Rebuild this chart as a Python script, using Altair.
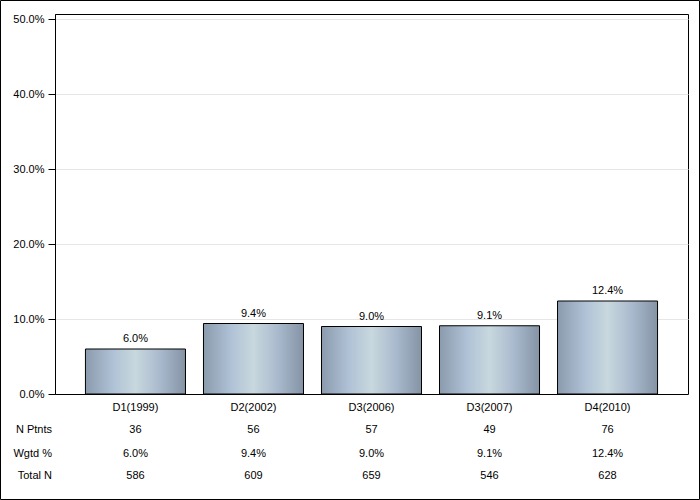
import altair as alt
import pandas as pd

categories = ["D1(1999)", "D2(2002)", "D3(2006)", "D3(2007)", "D4(2010)"]
values = [6.0, 9.4, 9.0, 9.1, 12.4]
n_ptnts = ["36", "56", "57", "49", "76"]
wgtd = ["6.0%", "9.4%", "9.0%", "9.1%", "12.4%"]
total_n = ["586", "609", "659", "546", "628"]
row_labels = ["N Ptnts", "Wgtd %", "Total N"]
y_ticks = [0, 10, 20, 30, 40, 50]

FONT = "Liberation Sans"
W, H = 633, 380

df = pd.DataFrame({"cat": categories, "val": values,
                   "lab": [f"{v:.1f}%" for v in values],
                   "np": n_ptnts, "wp": wgtd, "tn": total_n})

xsc = alt.Scale(domain=categories, paddingInner=0.1525, paddingOuter=0.258)
ysc = alt.Scale(domain=[0, 50.67], nice=False, zero=True)

grad = alt.Gradient(
    gradient="linear", x1=0, x2=1, y1=0, y2=0,
    stops=[alt.GradientStop(color="#8b9bae", offset=0),
           alt.GradientStop(color="#b0c2d6", offset=0.28),
           alt.GradientStop(color="#c8d8de", offset=0.5),
           alt.GradientStop(color="#a9b9cd", offset=0.75),
           alt.GradientStop(color="#8494a5", offset=1)])

base = alt.Chart(df)

bars = base.mark_bar(fill=grad, stroke="black", strokeWidth=1).encode(
    x=alt.X("cat:N", scale=xsc, sort=categories,
            axis=alt.Axis(title=None, labels=False, ticks=False, domain=True,
                          domainColor="black", grid=False)),
    y=alt.Y("val:Q", scale=ysc,
            axis=alt.Axis(title=None, values=y_ticks,
                          labelExpr="format(datum.value, '.1f') + '%'",
                          tickSize=7, tickColor="black", domainColor="black",
                          labelFont=FONT, labelFontSize=11, labelColor="black",
                          labelPadding=4, grid=True, gridColor="#e6e6e6")),
)

bar_labels = base.mark_text(font=FONT, fontSize=11, baseline="middle", dy=-10,
                            color="black").encode(
    x=alt.X("cat:N", scale=xsc, sort=categories),
    y=alt.Y("val:Q", scale=ysc),
    text="lab:N",
)

def row(field, ypix):
    return base.mark_text(font=FONT, fontSize=11, baseline="middle",
                          color="black").encode(
        x=alt.X("cat:N", scale=xsc, sort=categories),
        y=alt.value(ypix),
        text=f"{field}:N",
    )

cat_row = row("cat", 394)
np_row = row("np", 415.5)
wp_row = row("wp", 439.5)
tn_row = row("tn", 462)

lab_df = pd.DataFrame({"lab": row_labels, "y": [415.5, 439.5, 462]})
row_lab = alt.Chart(lab_df).mark_text(font=FONT, fontSize=11, baseline="middle",
                                      align="right", color="black").encode(
    x=alt.value(-3), y=alt.Y("y:Q", scale=None), text="lab:N")

frame = alt.Chart(pd.DataFrame({"a": [0]})).mark_rect(
    fill=None, stroke="black", strokeWidth=1).encode(
    x=alt.value(-54.5), x2=alt.value(644.5),
    y=alt.value(-13.5), y2=alt.value(485.5))

chart = alt.layer(bars, bar_labels, cat_row, np_row, wp_row, tn_row, row_lab, frame).properties(
    width=W, height=H,
    autosize=alt.AutoSizeParams(type="none"),
    padding={"left": 55, "top": 14, "right": 12, "bottom": 106},
    background="white",
).configure_view(stroke="black", strokeWidth=1)

chart.save("out.html", embed_options={"renderer": "svg", "actions": False})
